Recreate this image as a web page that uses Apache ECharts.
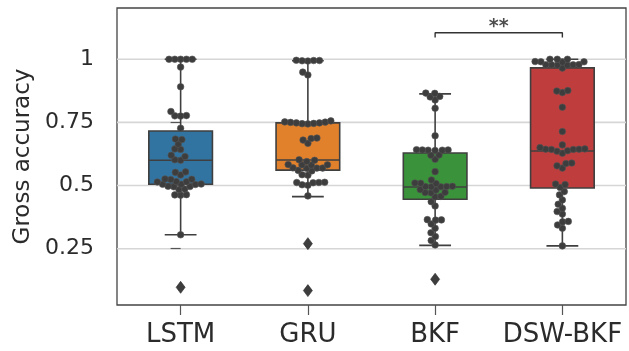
<!DOCTYPE html>
<html><head><meta charset="utf-8">
<script src="https://cdn.jsdelivr.net/npm/echarts/dist/echarts.min.js"></script>
<style>html,body{margin:0;padding:0;background:#fff;}#c{width:629px;height:351px;}</style>
</head><body><div id="c"></div>
<script>
const categories = ['LSTM', 'GRU', 'BKF', 'DSW-BKF'];
const boxColors = ['#3274A1', '#E1812C', '#3A923A', '#C03D3E'];
const yTicks = [0.25, 0.5, 0.75, 1];
const yTickLabels = ['0.25', '0.5', '0.75', '1'];

// box statistics: lower whisker, Q1, median, Q3, upper whisker
const boxLow  = [0.305, 0.456, 0.263, 0.261];
const boxQ1   = [0.505, 0.561, 0.446, 0.490];
const boxMed  = [0.600, 0.601, 0.494, 0.637];
const boxQ3   = [0.716, 0.748, 0.629, 0.966];
const boxHigh = [1.000, 0.994, 0.863, 1.000];

// outliers (category index, value)
const outlierCat = [0, 1, 1, 2];
const outlierVal = [0.097, 0.270, 0.084, 0.129];

// swarm points
const lstmPts = [1.0, 1.0, 1.0, 1.0, 1.0, 0.969, 0.891, 0.793, 0.777, 0.776, 0.775, 0.727, 0.684, 0.682, 0.664, 0.645, 0.643,
  0.620, 0.615, 0.602, 0.600, 0.554, 0.552, 0.542, 0.526, 0.525, 0.524, 0.516, 0.515, 0.514, 0.506, 0.505, 0.505, 0.504,
  0.497, 0.496, 0.495, 0.486, 0.484, 0.464, 0.463, 0.462, 0.305];
const gruPts = [0.996, 0.995, 0.995, 0.994, 0.993, 0.949, 0.938, 0.756, 0.752, 0.751, 0.750, 0.748, 0.748, 0.746, 0.745, 0.744,
  0.688, 0.686, 0.680, 0.667, 0.602, 0.600, 0.595, 0.583, 0.582, 0.582, 0.581, 0.570, 0.569, 0.569, 0.568, 0.560, 0.558,
  0.543, 0.541, 0.513, 0.512, 0.512, 0.511, 0.503, 0.501, 0.459];
const bkfPts = [0.866, 0.865, 0.853, 0.851, 0.839, 0.806, 0.697, 0.642, 0.641, 0.641, 0.640, 0.640, 0.639, 0.621, 0.620, 0.604,
  0.555, 0.522, 0.510, 0.509, 0.508, 0.497, 0.496, 0.496, 0.495, 0.495, 0.484, 0.482, 0.473, 0.472, 0.471, 0.457, 0.455,
  0.436, 0.419, 0.365, 0.364, 0.363, 0.348, 0.331, 0.313, 0.298, 0.282, 0.265];
const dswPts = [1.0, 1.0, 1.0, 0.991, 0.990, 0.990, 0.989, 0.979, 0.978, 0.978, 0.978, 0.977, 0.977, 0.965, 0.876, 0.874, 0.868,
  0.810, 0.714, 0.661, 0.650, 0.645, 0.644, 0.644, 0.643, 0.643, 0.638, 0.636, 0.628, 0.589, 0.587, 0.578, 0.569, 0.506,
  0.504, 0.492, 0.476, 0.463, 0.443, 0.426, 0.410, 0.397, 0.387, 0.358, 0.356, 0.344, 0.331, 0.261];
const swarmGroups = [lstmPts, gruPts, bkfPts, dswPts];

// significance bracket between BKF and DSW-BKF
const bracketX = [2, 2, 3, 3];
const bracketY = [1.086, 1.105, 1.105, 1.086];
const sigLabel = '**';
const sigPos = [2.5, 1.128];

const FONT = 'DejaVu Sans';
const EDGE = '#3f3f3f';
const chart = echarts.init(document.getElementById('c'), null, {renderer: 'canvas'});

const option = {
  animation: false,
  backgroundColor: '#fff',
  grid: {left: 117, right: 3, top: 8, bottom: 46, show: true, borderColor: '#444', borderWidth: 1.3, backgroundColor: 'transparent'},
  xAxis: [
    {type: 'category', data: categories, boundaryGap: true,
     axisLine: {show: false},
     axisTick: {show: true, alignWithLabel: true, length: 10, lineStyle: {color: '#555', width: 1.2}},
     axisLabel: {interval: 0, fontFamily: FONT, fontSize: 26, color: '#2b2b2b', margin: 17, hideOverlap: false},
     splitLine: {show: false}},
    {type: 'value', min: -0.5, max: 3.5, show: false}
  ],
  yAxis: [{
    type: 'value', min: 0.027, max: 1.203,
    name: 'Gross accuracy', nameLocation: 'middle', nameGap: 82,
    nameTextStyle: {fontFamily: FONT, fontSize: 23, color: '#2b2b2b'},
    axisLine: {show: false},
    axisTick: {show: true, length: 10, customValues: yTicks, lineStyle: {color: '#555', width: 1.2}},
    axisLabel: {fontFamily: FONT, fontSize: 22, color: '#2b2b2b', margin: 23, customValues: yTicks,
      formatter: v => { const i = yTicks.findIndex(t => Math.abs(t - v) < 1e-9); return i >= 0 ? yTickLabels[i] : ''; }},
    splitLine: {show: false}
  }],
  series: [
    {type: 'custom', xAxisIndex: 1, yAxisIndex: 0, z: 0, silent: true, clip: false,
     encode: {y: 0},
     data: yTicks.map(v => [v]),
     renderItem: function (params, api) {
       const cs = params.coordSys;
       const y = api.coord([0, api.value(0)])[1];
       return {type: 'line', shape: {x1: cs.x, y1: y, x2: cs.x + cs.width, y2: y},
               style: {stroke: '#d6d6d6', lineWidth: 1.6}};
     }},
    {type: 'custom', xAxisIndex: 0, yAxisIndex: 0, z: 2, silent: true,
     encode: {x: 0, y: [1, 2, 3, 4, 5]},
     data: categories.map((c, i) => [i, boxLow[i], boxQ1[i], boxMed[i], boxQ3[i], boxHigh[i]]),
     renderItem: function (params, api) {
       const i = api.value(0);
       const w = api.size([1, 0])[0] * 0.5;
       const cx = api.coord([i, api.value(3)])[0];
       const yLow = api.coord([i, api.value(1)])[1];
       const yQ1 = api.coord([i, api.value(2)])[1];
       const yMed = api.coord([i, api.value(3)])[1];
       const yQ3 = api.coord([i, api.value(4)])[1];
       const yHigh = api.coord([i, api.value(5)])[1];
       const ls = {stroke: EDGE, lineWidth: 1.6};
       return {type: 'group', children: [
         {type: 'line', shape: {x1: cx, y1: yQ3, x2: cx, y2: yHigh}, style: ls},
         {type: 'line', shape: {x1: cx, y1: yQ1, x2: cx, y2: yLow}, style: ls},
         {type: 'line', shape: {x1: cx - w / 4, y1: yHigh, x2: cx + w / 4, y2: yHigh}, style: ls},
         {type: 'line', shape: {x1: cx - w / 4, y1: yLow, x2: cx + w / 4, y2: yLow}, style: ls},
         {type: 'rect', shape: {x: cx - w / 2, y: yQ3, width: w, height: yQ1 - yQ3},
          style: {fill: boxColors[i], stroke: EDGE, lineWidth: 1.6}},
         {type: 'line', shape: {x1: cx - w / 2, y1: yMed, x2: cx + w / 2, y2: yMed}, style: ls}
       ]};
     }},
    {type: 'scatter', name: 'outliers', xAxisIndex: 0, yAxisIndex: 0, z: 4, silent: true,
     symbol: 'diamond', symbolSize: [9, 12],
     itemStyle: {color: '#3d3d3d', borderColor: '#2a2a2a', borderWidth: 0.6, opacity: 1},
     data: outlierVal.map((v, k) => [outlierCat[k], v])},
    {type: 'line', xAxisIndex: 1, yAxisIndex: 0, z: 4, silent: true, symbol: 'none',
     lineStyle: {color: '#333', width: 1.4},
     data: bracketX.map((x, k) => [x, bracketY[k]])},
    {type: 'scatter', xAxisIndex: 1, yAxisIndex: 0, z: 4, silent: true, symbolSize: 0,
     label: {show: true, position: 'inside', formatter: sigLabel, fontFamily: FONT, fontSize: 19, color: '#222', fontWeight: 'bold'},
     data: [sigPos]},
    {type: 'scatter', name: 'swarm', xAxisIndex: 1, yAxisIndex: 0, z: 3, silent: true, data: [],
     symbol: 'circle', symbolSize: 6.6,
     itemStyle: {color: '#3d3d3d', borderColor: '#555', borderWidth: 0.6, opacity: 1}}
  ]
};
chart.setOption(option);

function beeswarm(vals, d) {
  const pts = vals.map(v => ({v: v, y: chart.convertToPixel({yAxisIndex: 0}, v), x: 0}))
    .sort((a, b) => b.y - a.y);
  const placed = [];
  for (const p of pts) {
    const near = placed.filter(q => Math.abs(q.y - p.y) < d);
    const cands = [0];
    for (const q of near) {
      const dx = Math.sqrt(d * d - (q.y - p.y) * (q.y - p.y));
      cands.push(q.x + dx, q.x - dx);
    }
    cands.sort((a, b) => Math.abs(a) - Math.abs(b) || a - b);
    for (const c of cands) {
      if (near.every(q => (q.x - c) * (q.x - c) + (q.y - p.y) * (q.y - p.y) >= d * d - 1e-6)) { p.x = c; break; }
    }
    placed.push(p);
  }
  return pts;
}
const unitPx = chart.convertToPixel({xAxisIndex: 1}, 1) - chart.convertToPixel({xAxisIndex: 1}, 0);
const swarmData = [];
swarmGroups.forEach((vals, ci) => {
  beeswarm(vals, 5.8).forEach(p => swarmData.push([ci + p.x / unitPx, p.v]));
});
chart.setOption({series: [{}, {}, {}, {}, {}, {data: swarmData}]});
</script>
</body></html>
